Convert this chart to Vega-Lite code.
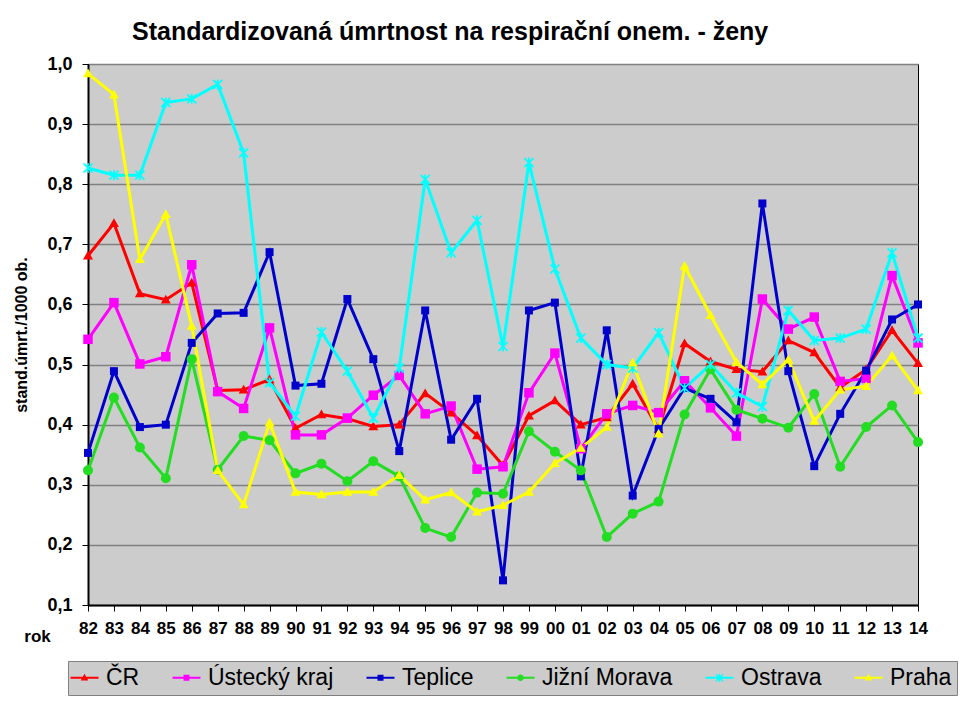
{
  "$schema": "https://vega.github.io/schema/vega-lite/v6.json",
  "width": 830,
  "height": 541,
  "autosize": {"type": "none"},
  "padding": {"left": 88, "top": 64, "right": 42, "bottom": 104},
  "background": "#FFFFFF",
  "config": {
    "locale": {"number": {"decimal": ",", "thousands": " ", "grouping": [3], "currency": ["", " Kč"]}},
    "view": {"fill": "#CCCCCC", "stroke": "#000000", "strokeWidth": 1},
    "font": "Liberation Sans"
  },
  "title": {
    "text": "Standardizovaná úmrtnost na respirační onem. - ženy",
    "anchor": "start",
    "frame": "group",
    "dx": 44,
    "dy": 31,
    "offset": 21,
    "baseline": "alphabetic",
    "font": "Liberation Sans",
    "fontSize": 25,
    "fontWeight": "bold",
    "color": "#000000"
  },
  "data": {"values": [
    {"r":1982,"s":"ČR","v":0.681},{"r":1983,"s":"ČR","v":0.735},{"r":1984,"s":"ČR","v":0.618},{"r":1985,"s":"ČR","v":0.608},{"r":1986,"s":"ČR","v":0.636},{"r":1987,"s":"ČR","v":0.457},{"r":1988,"s":"ČR","v":0.458},{"r":1989,"s":"ČR","v":0.475},{"r":1990,"s":"ČR","v":0.394},{"r":1991,"s":"ČR","v":0.417},{"r":1992,"s":"ČR","v":0.410},{"r":1993,"s":"ČR","v":0.397},{"r":1994,"s":"ČR","v":0.400},{"r":1995,"s":"ČR","v":0.452},{"r":1996,"s":"ČR","v":0.420},{"r":1997,"s":"ČR","v":0.382},{"r":1998,"s":"ČR","v":0.332},{"r":1999,"s":"ČR","v":0.415},{"r":2000,"s":"ČR","v":0.440},{"r":2001,"s":"ČR","v":0.400},{"r":2002,"s":"ČR","v":0.412},{"r":2003,"s":"ČR","v":0.468},{"r":2004,"s":"ČR","v":0.392},{"r":2005,"s":"ČR","v":0.535},{"r":2006,"s":"ČR","v":0.505},{"r":2007,"s":"ČR","v":0.492},{"r":2008,"s":"ČR","v":0.488},{"r":2009,"s":"ČR","v":0.540},{"r":2010,"s":"ČR","v":0.520},{"r":2011,"s":"ČR","v":0.462},{"r":2012,"s":"ČR","v":0.492},{"r":2013,"s":"ČR","v":0.557},{"r":2014,"s":"ČR","v":0.502},
    {"r":1982,"s":"Ústecký kraj","v":0.542},{"r":1983,"s":"Ústecký kraj","v":0.603},{"r":1984,"s":"Ústecký kraj","v":0.501},{"r":1985,"s":"Ústecký kraj","v":0.513},{"r":1986,"s":"Ústecký kraj","v":0.666},{"r":1987,"s":"Ústecký kraj","v":0.455},{"r":1988,"s":"Ústecký kraj","v":0.427},{"r":1989,"s":"Ústecký kraj","v":0.561},{"r":1990,"s":"Ústecký kraj","v":0.383},{"r":1991,"s":"Ústecký kraj","v":0.383},{"r":1992,"s":"Ústecký kraj","v":0.411},{"r":1993,"s":"Ústecký kraj","v":0.449},{"r":1994,"s":"Ústecký kraj","v":0.482},{"r":1995,"s":"Ústecký kraj","v":0.418},{"r":1996,"s":"Ústecký kraj","v":0.431},{"r":1997,"s":"Ústecký kraj","v":0.326},{"r":1998,"s":"Ústecký kraj","v":0.330},{"r":1999,"s":"Ústecký kraj","v":0.453},{"r":2000,"s":"Ústecký kraj","v":0.519},{"r":2001,"s":"Ústecký kraj","v":0.360},{"r":2002,"s":"Ústecký kraj","v":0.418},{"r":2003,"s":"Ústecký kraj","v":0.432},{"r":2004,"s":"Ústecký kraj","v":0.420},{"r":2005,"s":"Ústecký kraj","v":0.473},{"r":2006,"s":"Ústecký kraj","v":0.428},{"r":2007,"s":"Ústecký kraj","v":0.381},{"r":2008,"s":"Ústecký kraj","v":0.609},{"r":2009,"s":"Ústecký kraj","v":0.559},{"r":2010,"s":"Ústecký kraj","v":0.579},{"r":2011,"s":"Ústecký kraj","v":0.472},{"r":2012,"s":"Ústecký kraj","v":0.477},{"r":2013,"s":"Ústecký kraj","v":0.648},{"r":2014,"s":"Ústecký kraj","v":0.536},
    {"r":1982,"s":"Teplice","v":0.353},{"r":1983,"s":"Teplice","v":0.489},{"r":1984,"s":"Teplice","v":0.396},{"r":1985,"s":"Teplice","v":0.400},{"r":1986,"s":"Teplice","v":0.536},{"r":1987,"s":"Teplice","v":0.585},{"r":1988,"s":"Teplice","v":0.586},{"r":1989,"s":"Teplice","v":0.687},{"r":1990,"s":"Teplice","v":0.465},{"r":1991,"s":"Teplice","v":0.468},{"r":1992,"s":"Teplice","v":0.609},{"r":1993,"s":"Teplice","v":0.509},{"r":1994,"s":"Teplice","v":0.356},{"r":1995,"s":"Teplice","v":0.590},{"r":1996,"s":"Teplice","v":0.375},{"r":1997,"s":"Teplice","v":0.443},{"r":1998,"s":"Teplice","v":0.141},{"r":1999,"s":"Teplice","v":0.590},{"r":2000,"s":"Teplice","v":0.603},{"r":2001,"s":"Teplice","v":0.314},{"r":2002,"s":"Teplice","v":0.557},{"r":2003,"s":"Teplice","v":0.282},{"r":2004,"s":"Teplice","v":0.393},{"r":2005,"s":"Teplice","v":0.461},{"r":2006,"s":"Teplice","v":0.443},{"r":2007,"s":"Teplice","v":0.404},{"r":2008,"s":"Teplice","v":0.768},{"r":2009,"s":"Teplice","v":0.489},{"r":2010,"s":"Teplice","v":0.331},{"r":2011,"s":"Teplice","v":0.418},{"r":2012,"s":"Teplice","v":0.490},{"r":2013,"s":"Teplice","v":0.575},{"r":2014,"s":"Teplice","v":0.600},
    {"r":1982,"s":"Jižní Morava","v":0.324},{"r":1983,"s":"Jižní Morava","v":0.445},{"r":1984,"s":"Jižní Morava","v":0.362},{"r":1985,"s":"Jižní Morava","v":0.311},{"r":1986,"s":"Jižní Morava","v":0.509},{"r":1987,"s":"Jižní Morava","v":0.325},{"r":1988,"s":"Jižní Morava","v":0.381},{"r":1989,"s":"Jižní Morava","v":0.374},{"r":1990,"s":"Jižní Morava","v":0.319},{"r":1991,"s":"Jižní Morava","v":0.335},{"r":1992,"s":"Jižní Morava","v":0.306},{"r":1993,"s":"Jižní Morava","v":0.339},{"r":1994,"s":"Jižní Morava","v":0.314},{"r":1995,"s":"Jižní Morava","v":0.228},{"r":1996,"s":"Jižní Morava","v":0.213},{"r":1997,"s":"Jižní Morava","v":0.287},{"r":1998,"s":"Jižní Morava","v":0.285},{"r":1999,"s":"Jižní Morava","v":0.389},{"r":2000,"s":"Jižní Morava","v":0.355},{"r":2001,"s":"Jižní Morava","v":0.324},{"r":2002,"s":"Jižní Morava","v":0.213},{"r":2003,"s":"Jižní Morava","v":0.252},{"r":2004,"s":"Jižní Morava","v":0.272},{"r":2005,"s":"Jižní Morava","v":0.417},{"r":2006,"s":"Jižní Morava","v":0.492},{"r":2007,"s":"Jižní Morava","v":0.425},{"r":2008,"s":"Jižní Morava","v":0.410},{"r":2009,"s":"Jižní Morava","v":0.395},{"r":2010,"s":"Jižní Morava","v":0.451},{"r":2011,"s":"Jižní Morava","v":0.330},{"r":2012,"s":"Jižní Morava","v":0.396},{"r":2013,"s":"Jižní Morava","v":0.432},{"r":2014,"s":"Jižní Morava","v":0.371},
    {"r":1982,"s":"Ostrava","v":0.827},{"r":1983,"s":"Ostrava","v":0.815},{"r":1984,"s":"Ostrava","v":0.815},{"r":1985,"s":"Ostrava","v":0.936},{"r":1986,"s":"Ostrava","v":0.942},{"r":1987,"s":"Ostrava","v":0.966},{"r":1988,"s":"Ostrava","v":0.852},{"r":1989,"s":"Ostrava","v":0.470},{"r":1990,"s":"Ostrava","v":0.414},{"r":1991,"s":"Ostrava","v":0.554},{"r":1992,"s":"Ostrava","v":0.489},{"r":1993,"s":"Ostrava","v":0.411},{"r":1994,"s":"Ostrava","v":0.494},{"r":1995,"s":"Ostrava","v":0.808},{"r":1996,"s":"Ostrava","v":0.686},{"r":1997,"s":"Ostrava","v":0.740},{"r":1998,"s":"Ostrava","v":0.530},{"r":1999,"s":"Ostrava","v":0.836},{"r":2000,"s":"Ostrava","v":0.659},{"r":2001,"s":"Ostrava","v":0.544},{"r":2002,"s":"Ostrava","v":0.500},{"r":2003,"s":"Ostrava","v":0.494},{"r":2004,"s":"Ostrava","v":0.553},{"r":2005,"s":"Ostrava","v":0.461},{"r":2006,"s":"Ostrava","v":0.500},{"r":2007,"s":"Ostrava","v":0.453},{"r":2008,"s":"Ostrava","v":0.430},{"r":2009,"s":"Ostrava","v":0.590},{"r":2010,"s":"Ostrava","v":0.540},{"r":2011,"s":"Ostrava","v":0.544},{"r":2012,"s":"Ostrava","v":0.559},{"r":2013,"s":"Ostrava","v":0.686},{"r":2014,"s":"Ostrava","v":0.544},
    {"r":1982,"s":"Praha","v":0.984},{"r":1983,"s":"Praha","v":0.949},{"r":1984,"s":"Praha","v":0.675},{"r":1985,"s":"Praha","v":0.750},{"r":1986,"s":"Praha","v":0.564},{"r":1987,"s":"Praha","v":0.324},{"r":1988,"s":"Praha","v":0.267},{"r":1989,"s":"Praha","v":0.403},{"r":1990,"s":"Praha","v":0.288},{"r":1991,"s":"Praha","v":0.284},{"r":1992,"s":"Praha","v":0.288},{"r":1993,"s":"Praha","v":0.288},{"r":1994,"s":"Praha","v":0.316},{"r":1995,"s":"Praha","v":0.275},{"r":1996,"s":"Praha","v":0.287},{"r":1997,"s":"Praha","v":0.255},{"r":1998,"s":"Praha","v":0.266},{"r":1999,"s":"Praha","v":0.288},{"r":2000,"s":"Praha","v":0.336},{"r":2001,"s":"Praha","v":0.361},{"r":2002,"s":"Praha","v":0.396},{"r":2003,"s":"Praha","v":0.503},{"r":2004,"s":"Praha","v":0.385},{"r":2005,"s":"Praha","v":0.664},{"r":2006,"s":"Praha","v":0.582},{"r":2007,"s":"Praha","v":0.504},{"r":2008,"s":"Praha","v":0.467},{"r":2009,"s":"Praha","v":0.508},{"r":2010,"s":"Praha","v":0.406},{"r":2011,"s":"Praha","v":0.458},{"r":2012,"s":"Praha","v":0.464},{"r":2013,"s":"Praha","v":0.515},{"r":2014,"s":"Praha","v":0.457}
  ]},
  "encoding": {
    "x": {
      "field": "r", "type": "quantitative",
      "scale": {"domain": [1982, 2014], "nice": false, "zero": false},
      "axis": {
        "values": [1982,1983,1984,1985,1986,1987,1988,1989,1990,1991,1992,1993,1994,1995,1996,1997,1998,1999,2000,2001,2002,2003,2004,2005,2006,2007,2008,2009,2010,2011,2012,2013,2014],
        "format": "d",
        "labelExpr": "slice(datum.label, 2)",
        "grid": false,
        "labelAngle": 0,
        "labelFlush": false,
        "labelOverlap": false,
        "labelFont": "Liberation Sans",
        "labelFontSize": 17,
        "labelFontWeight": "bold",
        "labelColor": "#000000",
        "labelPadding": 9,
        "tickColor": "#000000",
        "tickSize": 6,
        "domainColor": "#000000",
        "domainWidth": 2,
        "title": "rok",
        "titleFont": "Liberation Sans",
        "titleFontSize": 17,
        "titleFontWeight": "bold",
        "titleColor": "#000000",
        "titleX": -51,
        "titleY": 36,
        "titleAlign": "center",
        "titleBaseline": "alphabetic",
        "titleAngle": 0
      }
    },
    "y": {
      "field": "v", "type": "quantitative",
      "scale": {"domain": [0.1, 1.0], "nice": false, "zero": false},
      "axis": {
        "values": [0.1,0.2,0.3,0.4,0.5,0.6,0.7,0.8,0.9,1.0],
        "format": ".1f",
        "grid": true,
        "gridColor": "#808080",
        "gridWidth": 1.5,
        "gridOpacity": 1,
        "labelFont": "Liberation Sans",
        "labelFontSize": 18,
        "labelFontWeight": "bold",
        "labelColor": "#000000",
        "labelPadding": 10,
        "tickColor": "#000000",
        "tickSize": 6,
        "domainColor": "#000000",
        "domainWidth": 2,
        "title": "stand.úmrt./1000 ob.",
        "titleFont": "Liberation Sans",
        "titleFontSize": 16,
        "titleFontWeight": "bold",
        "titleColor": "#000000",
        "titlePadding": 17
      }
    }
  },
  "layer": [
    {
      "mark": {"type": "line", "strokeWidth": 3},
      "encoding": {
        "color": {
          "field": "s", "type": "nominal",
          "scale": {"domain": ["ČR","Ústecký kraj","Teplice","Jižní Morava","Ostrava","Praha"], "range": ["#FF0000","#FF00FF","#0000CC","#22DD22","#00FFFF","#FFFF00"]},
          "legend": {
            "title": null,
            "orient": "none",
            "legendX": -20,
            "legendY": 597,
            "direction": "horizontal",
            "fillColor": "#CCCCCC",
            "strokeColor": "#808080",
            "padding": 5,
            "columnPadding": 32,
            "labelFont": "Liberation Sans",
            "labelFontSize": 23,
            "labelColor": "#000000",
            "labelOffset": 10,
            "labelLimit": 300,
            "symbolSize": 400,
            "symbolType": "M-1,-0.1L1,-0.1L1,0.1L-1,0.1Z",
            "encode": {
              "symbols": {
                "update": {
                  "shape": {"signal": "(datum.value === 'ČR' || datum.value === 'Praha') ? 'M-1.4,-0.1L1.4,-0.1L1.4,0.1L-1.4,0.1ZM0,-0.4L0.38,0.28L-0.38,0.28Z' : datum.value === 'Jižní Morava' ? 'M-1.4,-0.1L1.4,-0.1L1.4,0.1L-1.4,0.1ZM-0.33,0A0.33,0.33,0,1,1,0.33,0A0.33,0.33,0,1,1,-0.33,0Z' : datum.value === 'Ostrava' ? 'M-1.4,-0.1L1.4,-0.1L1.4,0.1L-1.4,0.1ZM-0.31,-0.41L0.41,0.31L0.31,0.41L-0.41,-0.31ZM-0.41,0.31L0.31,-0.41L0.41,-0.31L-0.31,0.41ZM-0.07,-0.4L0.07,-0.4L0.07,0.4L-0.07,0.4Z' : 'M-1.4,-0.1L1.4,-0.1L1.4,0.1L-1.4,0.1ZM-0.3,-0.3L0.3,-0.3L0.3,0.3L-0.3,0.3Z'"},
                  "fill": {"scale": "color", "field": "value"},
                  "stroke": {"value": "transparent"},
                  "strokeWidth": {"value": 0},
                  "opacity": {"value": 1},
                  "size": {"value": 400}
                }
              }
            }
          }
        },
        "detail": {"field": "s"}
      }
    },
    {
      "transform": [{"filter": "datum.s === 'ČR'"}],
      "mark": {"type": "point", "filled": true, "opacity": 1, "size": 100, "color": "#FF0000", "shape": "M0,-1L1,0.75L-1,0.75Z"}
    },
    {
      "transform": [{"filter": "datum.s === 'Ústecký kraj'"}],
      "mark": {"type": "point", "filled": true, "opacity": 1, "size": 100, "color": "#FF00FF", "shape": "M-0.95,-0.95L0.95,-0.95L0.95,0.95L-0.95,0.95Z"}
    },
    {
      "transform": [{"filter": "datum.s === 'Teplice'"}],
      "mark": {"type": "point", "filled": true, "opacity": 1, "size": 100, "color": "#0000CC", "shape": "M-0.8,-0.8L0.8,-0.8L0.8,0.8L-0.8,0.8Z"}
    },
    {
      "transform": [{"filter": "datum.s === 'Jižní Morava'"}],
      "mark": {"type": "point", "filled": true, "opacity": 1, "size": 100, "color": "#22DD22", "shape": "circle"}
    },
    {
      "transform": [{"filter": "datum.s === 'Ostrava'"}],
      "mark": {"type": "point", "filled": true, "opacity": 1, "size": 100, "color": "#00FFFF", "shape": "M-0.78,-1.02L1.02,0.78L0.78,1.02L-1.02,-0.78ZM-1.02,0.78L0.78,-1.02L1.02,-0.78L-0.78,1.02ZM-0.17,-1L0.17,-1L0.17,1L-0.17,1Z"}
    },
    {
      "transform": [{"filter": "datum.s === 'Praha'"}],
      "mark": {"type": "point", "filled": true, "opacity": 1, "size": 100, "color": "#FFFF00", "shape": "M0,-1L1,0.75L-1,0.75Z"}
    }
  ]
}
